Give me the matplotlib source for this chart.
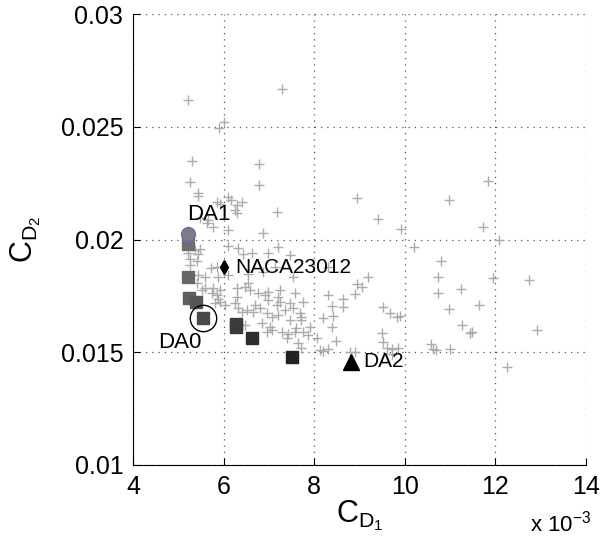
import numpy as np
import matplotlib
matplotlib.use('Agg')
import matplotlib.pyplot as plt
from matplotlib.ticker import FuncFormatter

plt.rcParams['font.family'] = ['Liberation Sans', 'DejaVu Sans']
plt.rcParams['mathtext.fontset'] = 'custom'
plt.rcParams['mathtext.rm'] = 'Liberation Sans'
plt.rcParams['mathtext.it'] = 'Liberation Sans'

# Population of evaluated designs (C_D1 in 1e-3, C_D2 in 1e-3)
pop_cd1 = [5.22, 7.30, 6.02, 5.89, 5.30, 6.79, 6.79, 7.19, 7.21, 7.47,
           5.26, 5.44, 5.43, 6.09, 6.16, 6.40, 6.29, 5.85, 5.92, 6.25,
           6.29, 5.48, 5.66, 5.63, 5.77, 6.10, 6.88, 5.37, 5.48, 5.43,
           5.26, 5.41, 5.26, 6.10, 6.32, 6.43, 6.62, 6.99, 5.72, 5.85,
           5.44, 5.59, 5.88, 6.10, 6.55, 6.88, 7.13,
           8.94, 7.54, 8.31, 9.18,
           9.42, 9.93, 10.20, 10.98, 11.85, 11.73, 12.09, 10.81, 10.74, 10.74,
           11.25, 10.98, 11.64, 11.27, 11.45, 11.48, 11.95, 12.75, 12.93, 12.25,
           10.59, 10.63, 10.70, 11.00, 8.95, 9.05, 8.90, 8.64, 8.63, 8.31,
           8.39, 8.41, 8.19, 8.39, 8.48, 9.53, 9.67, 9.82, 9.89, 9.49,
           9.53, 9.61, 9.71, 9.86, 9.71, 8.79, 8.90, 8.31, 8.13, 7.75,
           7.72, 7.76, 7.91, 8.06, 7.72,
           7.25, 7.21, 7.58, 7.17, 7.36, 7.54, 7.69, 7.21, 7.47, 7.72,
           7.61, 7.28, 7.43, 7.39, 7.58, 7.87, 7.65, 8.20,
           5.41, 5.59, 5.77, 5.85, 5.88, 5.81, 6.03, 6.25, 6.32, 6.40,
           6.47, 6.58, 6.69, 6.66, 6.80, 6.91, 6.99, 6.95, 7.06, 7.02,
           6.84, 6.47, 6.95, 7.06,
           5.22, 5.52, 5.74, 5.92, 5.92, 6.29, 6.55, 6.29, 6.51, 6.77,
           6.99, 7.25, 7.47]
pop_cd2 = [26.19, 26.67, 25.19, 24.94, 23.48, 23.33, 22.40, 21.21, 19.68, 19.31,
           22.56, 22.05, 21.93, 21.87, 21.75, 21.68, 21.53, 21.68, 21.57, 21.31,
           21.16, 20.94, 20.86, 20.72, 20.57, 20.42, 20.30, 19.53, 19.56, 19.36,
           19.12, 19.05, 18.87, 19.71, 19.61, 19.36, 19.39, 19.41, 18.72, 18.77,
           18.43, 18.35, 18.35, 18.43, 18.46, 18.57, 18.77,
           21.85, 18.35, 18.79, 18.35,
           20.92, 20.45, 19.68, 21.75, 22.59, 20.54, 19.98, 19.05, 18.32, 17.61,
           17.80, 16.92, 17.09, 16.21, 15.87, 15.91, 18.31, 18.22, 15.99, 14.35,
           15.35, 15.14, 15.10, 15.14, 18.01, 17.91, 17.57, 17.35, 17.02, 17.52,
           17.05, 16.62, 16.53, 16.11, 15.51, 17.02, 16.73, 16.58, 16.62, 15.87,
           15.47, 15.20, 15.14, 15.20, 14.92, 15.00, 15.00, 15.14, 15.10, 17.24,
           16.58, 15.91, 16.13, 15.62, 15.17,
           17.76, 17.46, 17.61, 17.09, 16.87, 16.95, 16.73, 16.65, 16.43, 16.43,
           16.06, 15.91, 15.81, 15.62, 15.91, 15.76, 15.40, 15.07,
           18.08, 17.84, 17.84, 17.54, 17.35, 17.17, 17.09, 17.17, 16.95, 16.80,
           17.91, 17.76, 17.09, 16.80, 16.95, 17.54, 17.68, 16.73, 16.58, 16.13,
           16.28, 16.21, 15.91, 15.99,
           19.39, 17.76, 17.61, 17.76, 17.24, 17.84, 18.06, 17.46, 16.87, 17.61,
           17.32, 17.24, 17.17]

# Pareto front designs (squares), light to dark
front_cd1 = [5.21, 5.21, 5.24, 5.39, 5.54, 6.27, 6.27, 6.63, 7.52]
front_cd2 = [19.79, 18.32, 17.39, 17.24, 16.53, 16.25, 16.10, 15.62, 14.78]
front_col = ['#6f6f6f', '#676767', '#5e5e5e', '#555555', '#4a4a4a',
             '#3d3d3d', '#3a3a3a', '#2e2e2e', '#222222']

# named designs
da1 = (5.21, 20.23)
da0 = (5.54, 16.53)
da2 = (8.82, 14.57)
naca = (6.02, 18.77)

s = 1e-3
fig = plt.figure(figsize=(6.02, 5.41), dpi=100)
ax = fig.add_axes([0.221, 0.1405, 0.752, 0.8336])

ax.plot(np.array(pop_cd1) * s, np.array(pop_cd2) * s, '+', color='#ababab',
        markersize=7, markeredgewidth=1.0, zorder=2)

for xv, yv, c in zip(front_cd1, front_cd2, front_col):
    ax.plot(xv * s, yv * s, 's', color=c, markersize=9, zorder=3)

ax.plot(da1[0] * s, da1[1] * s, 'o', markerfacecolor='#7c7c84',
        markeredgecolor='#6a6ab4', markersize=10, zorder=4)
ax.plot(da0[0] * s, da0[1] * s, 'o', markerfacecolor='none',
        markeredgecolor='k', markersize=19, markeredgewidth=1.0, zorder=4)
ax.plot(da2[0] * s, da2[1] * s, '^', color='k', markersize=12, zorder=4)
ax.plot(naca[0] * s, naca[1] * s, 'd', color='k', markersize=7, zorder=4)

# labels
ax.text(5.20 * s, 20.86 * s, 'DA1', fontsize=16, ha='left', va='baseline')
ax.text(6.25 * s, naca[1] * s, 'NACA23012', fontsize=15, ha='left', va='center')
ax.text(4.55 * s, 15.19 * s, 'DA0', fontsize=16, ha='left', va='baseline')
ax.text(9.08 * s, da2[1] * s, 'DA2', fontsize=15, ha='left', va='center')

ax.set_xlim(0.004, 0.014)
ax.set_ylim(0.01, 0.03)
ax.set_xticks(np.arange(4, 15, 2) * s)
ax.set_yticks([0.01, 0.015, 0.02, 0.025, 0.03])
ax.xaxis.set_major_formatter(FuncFormatter(lambda v, p: '%g' % round(v * 1e3, 6)))
ax.yaxis.set_major_formatter(FuncFormatter(lambda v, p: '%g' % v))
ax.tick_params(direction='in', length=5, labelsize=18, pad=7)

ax.grid(True, linestyle=(0, (1, 4)), color='#555555', linewidth=0.9)
ax.set_axisbelow(True)
ax.spines['top'].set_visible(False)
ax.spines['right'].set_visible(False)

ax.set_xlabel(r'$C_{D_1}$', fontsize=22, labelpad=0)
ax.set_ylabel(r'$C_{D_2}$', fontsize=22, labelpad=13)
ax.text(1.012, -0.13, r'x 10$^{-3}$', fontsize=16, ha='right', va='center',
        transform=ax.transAxes)

plt.savefig('out.png', dpi=100)
